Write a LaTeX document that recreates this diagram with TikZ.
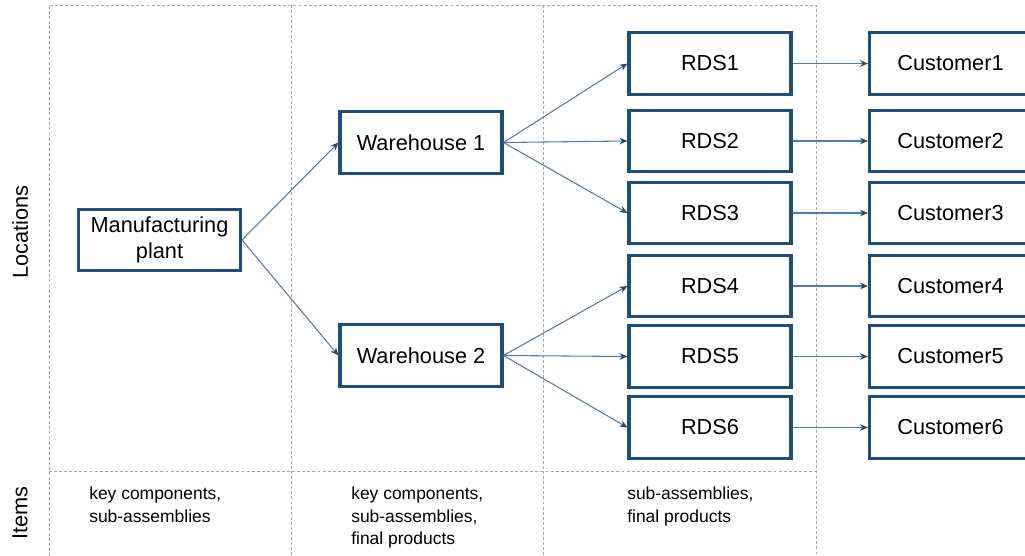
\documentclass[tikz,border=0pt]{standalone}
\usepackage{fontspec}
\setmainfont{Liberation Sans}
\usetikzlibrary{arrows.meta}
\definecolor{boxblue}{HTML}{1F4E79}
\definecolor{linkblue}{HTML}{4F7CAC}
\definecolor{gridgray}{HTML}{A6A6A6}
\tikzset{
  unitbox/.style={draw=boxblue, line width=2.3pt, fill=white, minimum width=121.5pt,
    minimum height=46pt, inner sep=0pt, align=center,
    font=\fontsize{16.3}{19.5}\selectfont},
  link/.style={draw=linkblue, line width=0.8pt,
    -{Stealth[length=6pt,width=5pt,color=boxblue]}},
  gridline/.style={draw=gridgray, line width=0.6pt, dash pattern=on 2.2pt off 1.6pt},
  itemtext/.style={anchor=north west, align=left, inner sep=0pt,
    font=\fontsize{13.1}{17}\selectfont},
  sidelabel/.style={rotate=90, inner sep=0pt, font=\fontsize{16.3}{19}\selectfont}
}
\begin{document}
\begin{tikzpicture}[x=0.75pt,y=-0.75pt]
\useasboundingbox (0,0) rectangle (1025,556);
% grid
\draw[gridline] (49,556) -- (49,5) -- (816,5) -- (816,556);
\draw[gridline] (291,5) -- (291,556);
\draw[gridline] (543,5) -- (543,556);
\draw[gridline] (49,471) -- (816,471);
% side labels
\node[sidelabel] (loc) at (20,232) {Locations};
\node[sidelabel] (items) at (20,513) {Items};
% nodes
\node[unitbox] (mp) at (159.5,240) {Manufacturing\\plant};
\node[unitbox] (w1) at (421,142.5) {Warehouse 1};
\node[unitbox] (w2) at (421,355.5) {Warehouse 2};
\foreach \i/\y in {1/63.5,2/141,3/213,4/286,5/356.5,6/427.5}{
  \node[unitbox] (r\i) at (710,\y) {RDS\i};
  \node[unitbox] (c\i) at (950.5,\y) {Customer\i};
}
% connectors
\draw[link] (mp.east) -- (w1.west);
\draw[link] (mp.east) -- (w2.west);
\foreach \i in {1,2,3}{\draw[link] (w1.east) -- (r\i.west);}
\foreach \i in {4,5,6}{\draw[link] (w2.east) -- (r\i.west);}
\foreach \i in {1,...,6}{\draw[link] (r\i.east) -- (c\i.west);}
% items
\node[itemtext] (it1) at (89,486.5) {key components,\\sub-assemblies};
\node[itemtext] (it2) at (351,486.5) {key components,\\sub-assemblies,\\final products};
\node[itemtext] (it3) at (627,486.5) {sub-assemblies,\\final products};
\end{tikzpicture}
\end{document}
